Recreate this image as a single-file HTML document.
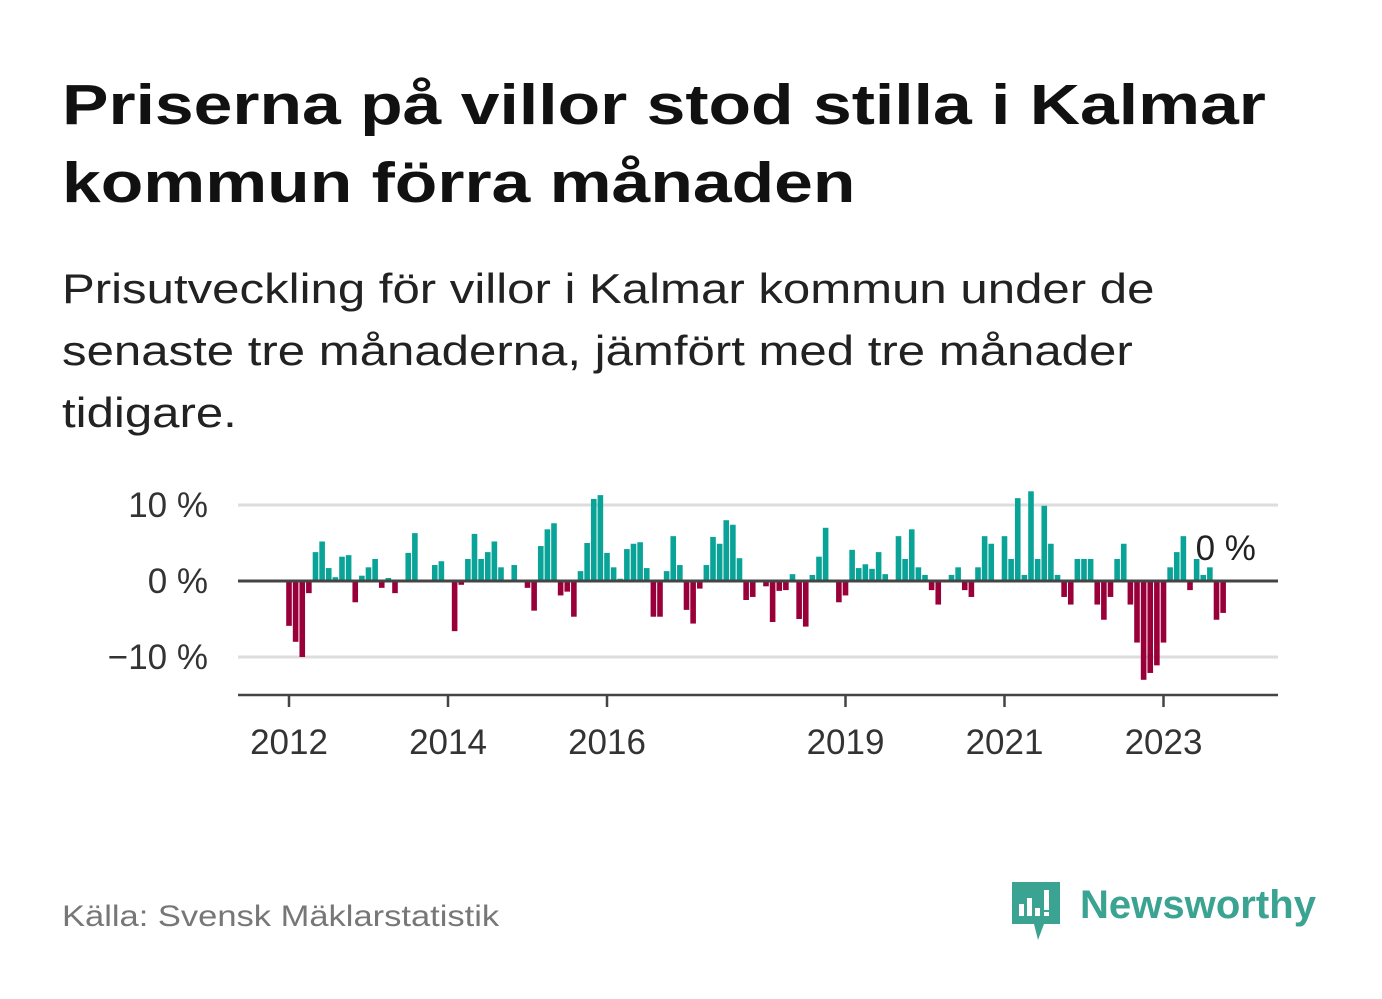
<!DOCTYPE html>
<html><head><meta charset="utf-8"><style>
body{margin:0;background:#fff;width:1382px;height:999px;overflow:hidden;font-family:"Liberation Sans",sans-serif;position:relative}
.t{position:absolute;left:62px;top:66px;font-size:57px;font-weight:bold;line-height:78px;color:#111;transform:scaleX(1.222);transform-origin:0 0;white-space:nowrap}
.s{position:absolute;left:62px;top:258px;font-size:42px;line-height:62px;color:#222;transform:scaleX(1.17);transform-origin:0 0;white-space:nowrap}
.src{position:absolute;left:62px;top:900px;font-size:30px;color:#777;transform:scaleX(1.15);transform-origin:0 0;white-space:nowrap}
</style></head><body>
<div class="t">Priserna på villor stod stilla i Kalmar<br>kommun förra månaden</div>
<div class="s">Prisutveckling för villor i Kalmar kommun under de<br>senaste tre månaderna, jämfört med tre månader<br>tidigare.</div>
<div class="src">Källa: Svensk Mäklarstatistik</div>
<svg width="1382" height="999" style="position:absolute;left:0;top:0" id="chart">
<g id="grid"></g><g id="bars"></g><g id="axes"></g>
<g>
<path d="M1012 882 h48 v42 h-16 l-6 16 l-4-16 h-22z" fill="#3aa391"/>
<rect x="1019" y="904" width="5" height="12" fill="#fff"/><rect x="1027" y="898" width="5" height="18" fill="#fff"/><rect x="1035" y="908" width="5" height="8" fill="#fff"/><rect x="1044" y="890" width="5" height="20" fill="#fff"/><rect x="1044" y="912" width="5" height="4" fill="#fff"/>
<text x="1080" y="918" font-size="40" font-weight="bold" fill="#3aa391" font-family="Liberation Sans, sans-serif" textLength="236">Newsworthy</text>
</g>
</svg>
<script>
const values=[-5.9,-8,-10,-1.6,3.8,5.2,1.7,0.5,3.2,3.4,-2.8,0.7,1.8,2.9,-0.9,0.4,-1.6,0,3.7,6.3,0,0,2.1,2.6,0,-6.6,-0.5,2.9,6.2,2.9,3.8,5.2,1.8,0,2.1,0,-0.9,-3.9,4.6,6.8,7.6,-1.9,-1.4,-4.7,1.3,5.0,10.8,11.3,
3.7,1.8,0.3,4.2,4.9,5.1,1.7,-4.7,-4.7,1.3,5.9,2.1,-3.8,-5.6,-1,2.1,5.8,4.9,8.0,7.4,3.0,-2.5,-2.1,0,-0.7,-5.4,-1.3,-1.2,0.9,-5,-6,0.8,3.2,7.0,0,-2.8,
-1.9,4.1,1.7,2.2,1.6,3.8,0.9,0,5.9,2.9,6.8,1.8,0.8,-1.2,-3.1,0,0.8,1.8,-1.2,-2.1,1.8,5.9,4.9,0,5.9,2.9,10.9,0.8,11.8,2.9,9.9,4.9,0.8,-2.1,-3.1,2.9,2.9,2.9,-3.1,-5.1,-2.1,2.9,4.9,-3.1,-8.1,-13,-12.1,-11.1,-8.1,1.8,3.8,5.9,-1.2,2.9,0.8,1.8,-5.1,-4.2,0];
const yTicks=[10,0,-10];
const yLabels=["10 %","0 %","\u221210 %"];
const xYears=[2012,2014,2016,2019,2021,2023];
const lastLabel="0 %";
const NS="http://www.w3.org/2000/svg";
const x0=289,step=6.625,startYear=2012;
const xs=i=>x0+i*step;
const ys=v=>581-v*7.6;
function mk(t,a,p){const e=document.createElementNS(NS,t);for(const k in a)e.setAttribute(k,a[k]);p.appendChild(e);return e;}
const grid=document.getElementById('grid'),bars=document.getElementById('bars'),axes=document.getElementById('axes');
yTicks.forEach((v,i)=>{
 if(v!==0){const l=mk('line',{x1:238,x2:1278,y1:ys(v),y2:ys(v),stroke:'#ddd','stroke-width':3},grid);
 
 }
 const t=mk('text',{x:208,y:ys(v)+12,'text-anchor':'end','font-size':35,fill:'#333','font-family':'Liberation Sans, sans-serif'},axes);
 t.textContent=yLabels[i];
 
 
});
values.forEach((v,i)=>{
 const y=Math.min(ys(v),ys(0)),h=Math.abs(ys(v)-ys(0));
 const r=mk('rect',{x:xs(i)-2.8,y:y,width:5.6,height:h,fill:v>=0?'#0aa398':'#99003a'},bars);
 
 
});
const z=mk('line',{x1:238,x2:1278,y1:ys(0),y2:ys(0),stroke:'#444','stroke-width':3},axes);


const xa=mk('line',{x1:238,x2:1278,y1:695,y2:695,stroke:'#444','stroke-width':2.5},axes);


xYears.forEach(yr=>{
 const x=xs((yr-startYear)*12);
 const tk=mk('line',{x1:x,x2:x,y1:695,y2:707,stroke:'#444','stroke-width':2.5},axes);
 
 
 const t=mk('text',{x:x,y:754,'text-anchor':'middle','font-size':35,fill:'#333','font-family':'Liberation Sans, sans-serif'},axes);
 t.textContent=yr;
 
 
});
const lt=mk('text',{x:xs(values.length-1)-4,y:560,'text-anchor':'middle','font-size':35,fill:'#222','font-family':'Liberation Sans, sans-serif'},axes);
lt.textContent=lastLabel;


</script>
</body></html>
